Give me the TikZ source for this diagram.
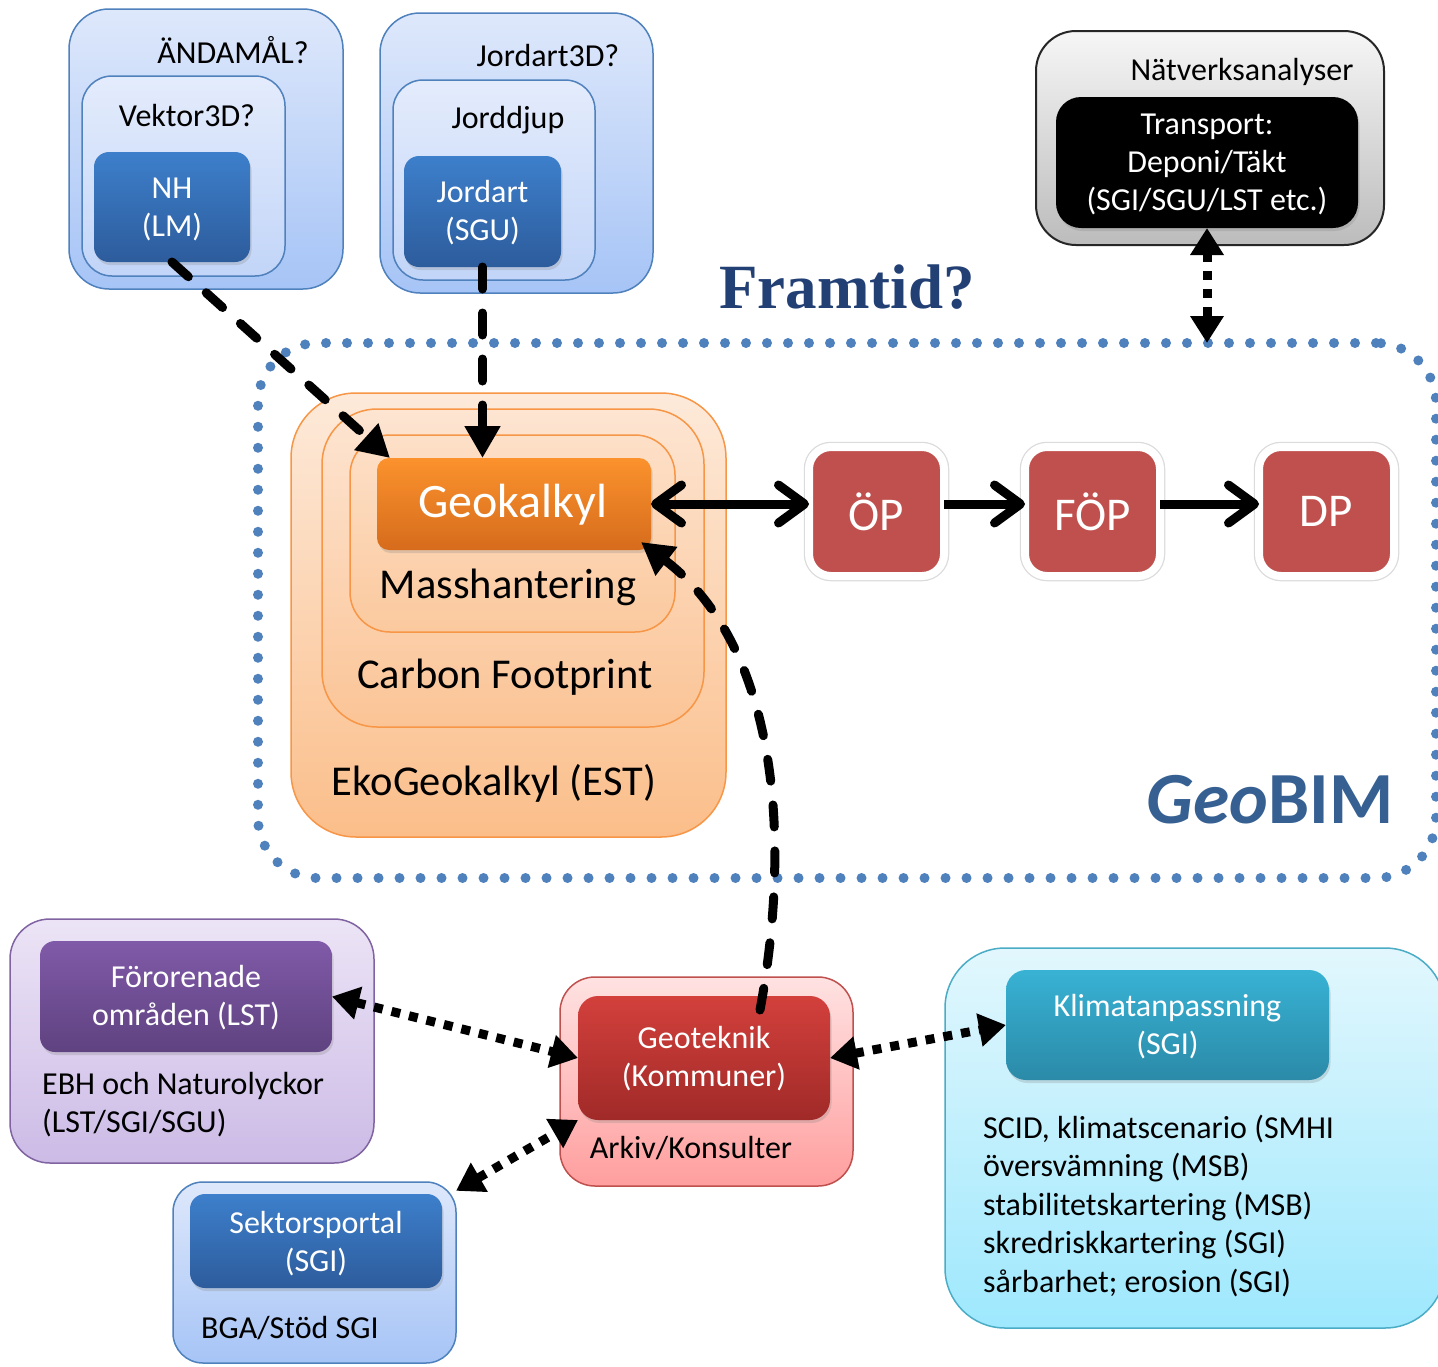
\documentclass[tikz,border=0pt]{standalone}
\usepackage{fontspec}
\setmainfont{Carlito}
\newfontfamily\framfont{Liberation Serif}
\usetikzlibrary{arrows.meta,shadows,calc}
\definecolor{bluebd}{RGB}{79,129,189}
\definecolor{lbtop}{RGB}{222,232,251}
\definecolor{lbbot}{RGB}{166,196,246}
\definecolor{lbmtop}{RGB}{228,236,252}
\definecolor{lbmbot}{RGB}{194,213,248}
\definecolor{dbtop}{RGB}{61,127,203}
\definecolor{dbbot}{RGB}{45,92,156}
\definecolor{orbd}{RGB}{247,150,70}
\definecolor{or1top}{RGB}{253,234,218}
\definecolor{or1bot}{RGB}{251,190,138}
\definecolor{or2top}{RGB}{253,229,210}
\definecolor{or2bot}{RGB}{251,196,150}
\definecolor{or3top}{RGB}{253,224,200}
\definecolor{or3bot}{RGB}{251,201,158}
\definecolor{gktop}{RGB}{251,146,45}
\definecolor{gkbot}{RGB}{214,108,28}
\definecolor{planred}{RGB}{192,80,77}
\definecolor{graytop}{RGB}{246,246,246}
\definecolor{graybot}{RGB}{188,188,188}
\definecolor{purbd}{RGB}{128,100,162}
\definecolor{pu1top}{RGB}{236,228,246}
\definecolor{pu1bot}{RGB}{204,187,230}
\definecolor{pu2top}{RGB}{128,90,168}
\definecolor{pu2bot}{RGB}{95,66,128}
\definecolor{redbd}{RGB}{192,80,77}
\definecolor{re1top}{RGB}{255,226,226}
\definecolor{re1bot}{RGB}{255,158,158}
\definecolor{re2top}{RGB}{211,64,60}
\definecolor{re2bot}{RGB}{160,42,40}
\definecolor{cybd}{RGB}{75,172,198}
\definecolor{cy1top}{RGB}{226,247,253}
\definecolor{cy1bot}{RGB}{158,232,253}
\definecolor{cy2top}{RGB}{56,178,212}
\definecolor{cy2bot}{RGB}{43,138,168}
\definecolor{dotblue}{RGB}{79,129,189}
\definecolor{framblue}{RGB}{35,64,117}
\definecolor{geobimblue}{RGB}{55,96,146}
\tikzset{
  barb/.tip={Straight Barb[length=26pt,width=38pt,round]},
  tri/.tip={Triangle[length=32pt,width=34pt]},
  trib/.tip={Triangle[length=27pt,width=32pt]},
  box/.style={rectangle, inner sep=0pt, outer sep=0pt},
  shad/.style={drop shadow={opacity=0.25, shadow xshift=1.5pt, shadow yshift=-3pt}},
  blueout/.style={box, draw=bluebd, line width=1.5pt, top color=lbtop, bottom color=lbbot},
  bluemid/.style={box, draw=bluebd, line width=1.5pt, top color=lbmtop, bottom color=lbmbot},
  bluein/.style={box, shad, top color=dbtop, bottom color=dbbot, rounded corners=15pt},
  orbox/.style={box, draw=orbd, line width=1.5pt},
  planbox/.style={box, draw=white, line width=8pt, fill=planred, rounded corners=22pt,
     preaction={draw=black!14, line width=10.5pt},
     minimum width=135pt, minimum height=129pt, font=\fontsize{47}{52}\selectfont, text=white},
  lbl/.style={inner sep=0pt, font=\fontsize{32}{38}\selectfont, text=black},
  wlbl/.style={lbl, text=white, align=center},
  biglbl/.style={inner sep=0pt, font=\fontsize{42.5}{48}\selectfont, text=black},
  solidarrow/.style={line width=9pt, barb-barb},
  dasharrow/.style={line width=9pt, line cap=round, dash pattern=on 22pt off 24pt, -tri},
  dotarrow/.style={line width=9pt, dash pattern=on 9pt off 9pt, trib-trib},
}
\begin{document}
\begin{tikzpicture}[x=1pt,y=-1pt]
\fill[white] (0,0) rectangle (1438,1366);
\useasboundingbox (0,0) rectangle (1438,1366);

% GeoBIM dotted frame
\node[box, draw=dotblue, line width=10pt, line cap=round, dash pattern=on 0pt off 21pt,
      rounded corners=60pt, minimum width=1178pt, minimum height=535pt] (geobim) at (847,610.5) {};
\node[inner sep=0pt, font=\fontsize{73.5}{80}\selectfont\bfseries, text=geobimblue] (geobimlbl) at (1270,800) {\itshape Geo\upshape BIM};
\node[inner sep=0pt, font=\framfont\fontsize{63}{70}\selectfont\bfseries, text=framblue] (framtid) at (847,287) {Framtid?};

% top left group
\node[blueout, rounded corners=40pt, minimum width=274pt, minimum height=280pt] (andout) at (206,149) {};
\node[bluemid, rounded corners=30pt, minimum width=203pt, minimum height=200pt] (andmid) at (183.5,176) {};
\node[bluein, minimum width=156pt, minimum height=110pt] (nh) at (172,207) {};
\node[lbl] (andlbl) at (233,50) {ÄNDAMÅL?};
\node[lbl] (veklbl) at (187,116) {Vektor3D?};
\node[wlbl] (nhlbl) at (172,209) {NH\\(LM)};

% top middle group
\node[blueout, rounded corners=40pt, minimum width=273pt, minimum height=280pt] (jout) at (516.5,153) {};
\node[bluemid, rounded corners=30pt, minimum width=202pt, minimum height=200pt] (jmid) at (494,180) {};
\node[bluein, minimum width=157pt, minimum height=111pt] (jord) at (482.5,211.5) {};
\node[lbl] (j3dlbl) at (548,56) {Jordart3D?};
\node[lbl] (jdlbl) at (508,120) {Jorddjup};
\node[wlbl] (jordlbl) at (482.5,213) {Jordart\\(SGU)};

% top right group
\node[box, draw=black!85, line width=2pt, rounded corners=40pt, top color=graytop, bottom color=graybot,
      minimum width=348pt, minimum height=214pt] (natout) at (1210,138) {};
\node[box, shad, fill=black, rounded corners=25pt, minimum width=302pt, minimum height=131pt] (natin) at (1207,162.5) {};
\node[lbl] (natlbl) at (1242,72) {Nätverksanalyser};
\node[wlbl] (natinlbl) at (1207,164) {Transport:\\Deponi/Täkt\\(SGI/SGU/LST etc.)};

% orange group
\node[orbox, rounded corners=65pt, top color=or1top, bottom color=or1bot,
      minimum width=435pt, minimum height=444pt] (ekoout) at (508.5,615) {};
\node[orbox, rounded corners=55pt, top color=or2top, bottom color=or2bot,
      minimum width=382pt, minimum height=318pt] (carbon) at (513,568) {};
\node[orbox, rounded corners=40pt, top color=or3top, bottom color=or3bot,
      minimum width=325pt, minimum height=197pt] (mass) at (512.5,533.5) {};
\node[box, shad, rounded corners=12pt, top color=gktop, bottom color=gkbot,
      minimum width=274pt, minimum height=92pt] (geok) at (514,504) {};
\node[inner sep=0pt, font=\fontsize{48}{52}\selectfont, text=white] (geoklbl) at (513,505) {Geokalkyl};
\node[biglbl] (masslbl) at (508,587) {Masshantering};
\node[biglbl] (carblbl) at (505,677) {Carbon Footprint};
\node[biglbl] (ekolbl) at (494,783) {EkoGeokalkyl (EST)};

% plan boxes
\node[planbox] (op) at (876.5,511.5) {ÖP};
\node[planbox] (fop) at (1092.5,511.5) {FÖP};
\node[planbox] (dp) at (1326.5,511.5) {DP};

% purple group
\node[box, draw=purbd, line width=1.5pt, rounded corners=40pt, top color=pu1top, bottom color=pu1bot,
      minimum width=364pt, minimum height=244pt] (forout) at (192,1041) {};
\node[box, shad, rounded corners=15pt, top color=pu2top, bottom color=pu2bot,
      minimum width=292pt, minimum height=111pt] (foro) at (186,996.5) {};
\node[wlbl] (forolbl) at (186,998) {Förorenade\\områden (LST)};
\node[lbl, anchor=west, align=left] (ebhlbl) at (42,1105) {EBH och Naturolyckor\\(LST/SGI/SGU)};

% red group
\node[box, draw=redbd, line width=1.5pt, rounded corners=35pt, top color=re1top, bottom color=re1bot,
      minimum width=293pt, minimum height=209pt] (arkout) at (706.5,1081.5) {};
\node[box, shad, rounded corners=20pt, top color=re2top, bottom color=re2bot,
      minimum width=252pt, minimum height=124pt] (geo) at (704,1058) {};
\node[wlbl] (geolbl) at (704,1059) {Geoteknik\\(Kommuner)};
\node[lbl] (arklbl) at (691,1148) {Arkiv/Konsulter};

% sektor group
\node[blueout, rounded corners=30pt, minimum width=283pt, minimum height=181pt] (sekout) at (314.5,1272.5) {};
\node[bluein, minimum width=252pt, minimum height=94pt] (sek) at (316,1241) {};
\node[wlbl] (seklbl) at (316,1244) {Sektorsportal\\(SGI)};
\node[lbl, anchor=west] (bgalbl) at (201,1328) {BGA/Stöd SGI};

% klimat group
\node[box, draw=cybd, line width=1.5pt, rounded corners=60pt, top color=cy1top, bottom color=cy1bot,
      minimum width=500pt, minimum height=380pt] (klimout) at (1195,1138) {};
\node[box, shad, rounded corners=20pt, top color=cy2top, bottom color=cy2bot,
      minimum width=323pt, minimum height=110pt] (klim) at (1167.5,1025) {};
\node[wlbl] (klimlbl) at (1167.5,1027) {Klimatanpassning\\(SGI)};
\node[lbl, anchor=west, align=left, font=\fontsize{32}{38.5}\selectfont] (scidlbl) at (983,1206)
  {SCID, klimatscenario (SMHI\\översvämning (MSB)\\stabilitetskartering (MSB)\\skredriskkartering (SGI)\\sårbarhet; erosion (SGI)};

% connectors
\draw[solidarrow] (geok.east) -- (geok.east -| op.west);
\draw[line width=9pt, -barb] (geok.east -| op.east) -- (geok.east -| fop.west);
\draw[line width=9pt, -barb] (geok.east -| fop.east) -- (geok.east -| dp.west);

\draw[dasharrow] (nh.south) -- ($(geok.north west)+(13,0)$);
\draw[dasharrow] (jord.south) -- (jord.south |- geok.north);
\draw[dasharrow] ($(geo.north)+(56,14)$) .. controls (795,820) and (770,640) .. ($(geok.south east)+(-10,-8)$);

\draw[dotarrow] (natin.south) -- (natin.south |- geobim.north);
\draw[dotarrow] (foro.east) -- (geo.west);
\draw[dotarrow] (geo.east) -- (klim.west);
\draw[dotarrow] (sekout.30) -- (geo.south west);
\end{tikzpicture}
\end{document}
